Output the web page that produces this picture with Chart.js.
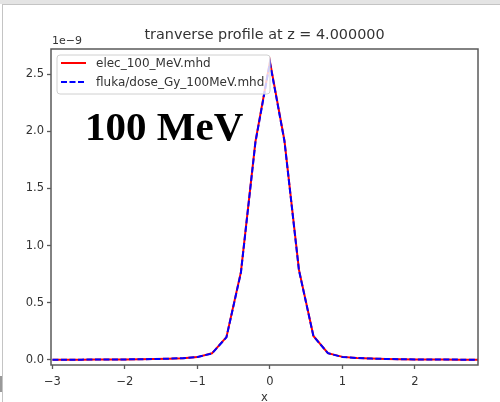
<!DOCTYPE html>
<html>
<head>
<meta charset="utf-8">
<script src="https://cdn.jsdelivr.net/npm/chart.js@4.4.1/dist/chart.umd.min.js"></script>
<style>
  html, body { margin: 0; padding: 0; background: #fff; }
  body { width: 500px; height: 402px; position: relative; overflow: hidden; }
  #topBand { position: absolute; left: 0; top: 0; width: 500px; height: 4px; background: #e4e4e4; }
  #frame { position: absolute; left: 2px; top: 4px; width: 498px; height: 398px;
           border-left: 1px solid #c4c4c4; border-top: 1px solid #c4c4c4; }
  #sideMark { position: absolute; left: 0; top: 376px; width: 2px; height: 16px; background: #999; }
  #profileChart { position: absolute; left: 0; top: 0; }
</style>
</head>
<body>
<div id="topBand"></div>
<div id="frame"></div>
<div id="sideMark"></div>
<canvas id="profileChart" width="500" height="402"></canvas>

<script>
// transverse dose profile, values in units of 1e-9
const xPos = [-3.0, -2.8, -2.6, -2.4, -2.2, -2.0, -1.8, -1.6, -1.4, -1.2, -1.0,
              -0.8, -0.6, -0.4, -0.2, 0.0, 0.2, 0.4, 0.6, 0.8, 1.0,
              1.2, 1.4, 1.6, 1.8, 2.0, 2.2, 2.4, 2.6, 2.8, 3.0];

const elecDose = [0.003, 0.003, 0.003, 0.004, 0.004, 0.005, 0.006, 0.008, 0.011, 0.016, 0.025,
                  0.058, 0.200, 0.770, 1.910, 2.610, 1.920, 0.790, 0.210, 0.060, 0.027,
                  0.017, 0.012, 0.009, 0.007, 0.005, 0.004, 0.004, 0.003, 0.003, 0.003];

const flukaDose = [0.003, 0.003, 0.003, 0.004, 0.004, 0.005, 0.006, 0.008, 0.011, 0.016, 0.026,
                   0.057, 0.198, 0.765, 1.905, 2.600, 1.915, 0.785, 0.208, 0.059, 0.026,
                   0.017, 0.012, 0.009, 0.007, 0.005, 0.004, 0.004, 0.003, 0.003, 0.003];

const xTicks = [-3, -2, -1, 0, 1, 2];
const yTicks = [0.0, 0.5, 1.0, 1.5, 2.0, 2.5];

const titleText = "tranverse profile at z = 4.000000";
const offsetText = "1e\u22129";
const energyText = "100 MeV";

const sansFont = "'DejaVu Sans', sans-serif";
const axisColor = "#5a5a5a";
const textColor = "#333";

const toPoints = (ys) => xPos.map((x, i) => ({ x, y: ys[i] }));

// frame box, title, offset label, legend and energy label
const decorations = {
  id: "decorations",
  afterDatasetsDraw(chart) {
    const { ctx, chartArea: a } = chart;
    ctx.save();

    ctx.strokeStyle = axisColor;
    ctx.lineWidth = 1.5;
    ctx.strokeRect(a.left, a.top, a.right - a.left, a.bottom - a.top);

    ctx.fillStyle = textColor;
    ctx.font = "14.4px " + sansFont;
    ctx.textAlign = "center";
    ctx.textBaseline = "alphabetic";
    ctx.fillText(titleText, (a.left + a.right) / 2, a.top - 10);

    ctx.font = "11px " + sansFont;
    ctx.textAlign = "left";
    ctx.fillText(offsetText, a.left + 1, a.top - 5);

    // legend box
    const bx = a.left + 6, by = a.top + 6, bw = 213, bh = 39;
    ctx.beginPath();
    ctx.roundRect(bx, by, bw, bh, 3);
    ctx.fillStyle = "rgba(255,255,255,0.8)";
    ctx.fill();
    ctx.strokeStyle = "#d0d0d0";
    ctx.lineWidth = 1;
    ctx.stroke();

    chart.data.datasets.forEach((ds, i) => {
      const y = by + 8 + i * 19;
      ctx.beginPath();
      ctx.setLineDash(ds.borderDash || []);
      ctx.strokeStyle = ds.borderColor;
      ctx.lineWidth = ds.borderWidth;
      ctx.moveTo(bx + 4, y);
      ctx.lineTo(bx + 29, y);
      ctx.stroke();
      ctx.setLineDash([]);
      ctx.fillStyle = textColor;
      ctx.font = "12px " + sansFont;
      ctx.textBaseline = "middle";
      ctx.fillText(ds.label, bx + 39, y + 1);
    });

    ctx.fillStyle = "#000";
    ctx.font = "bold 41px 'Liberation Serif', serif";
    ctx.textBaseline = "alphabetic";
    ctx.fillText(energyText, 85, 140);

    ctx.restore();
  }
};

new Chart(document.getElementById("profileChart"), {
  type: "scatter",
  data: {
    datasets: [
      {
        label: "elec_100_MeV.mhd",
        data: toPoints(elecDose),
        showLine: true,
        borderColor: "#ff0000",
        borderWidth: 2,
        pointRadius: 0,
        order: 1,
      },
      {
        label: "fluka/dose_Gy_100MeV.mhd",
        data: toPoints(flukaDose),
        showLine: true,
        borderColor: "#0000ff",
        borderWidth: 2,
        borderDash: [6, 2.5],
        pointRadius: 0,
        order: 0,
      },
    ],
  },
  options: {
    responsive: false,
    devicePixelRatio: 1,
    animation: false,
    layout: { padding: { top: 49, right: 22, left: 0, bottom: 0 } },
    plugins: {
      legend: { display: false },
      tooltip: { enabled: false },
    },
    scales: {
      x: {
        type: "linear",
        min: -3.02,
        max: 2.87,
        afterBuildTicks: (scale) => { scale.ticks = xTicks.map((v) => ({ value: v })); },
        afterFit: (scale) => { scale.height = 37; },
        border: { display: false },
        grid: { drawOnChartArea: false, drawTicks: true, tickLength: 4, tickColor: axisColor, tickWidth: 1.3 },
        ticks: {
          color: textColor,
          font: { family: sansFont, size: 11.5 },
          padding: 6,
          maxRotation: 0,
          callback: (v) => String(v).replace("-", "\u2212"),
        },
        title: {
          display: true,
          text: "x",
          color: textColor,
          font: { family: sansFont, size: 11.5 },
          padding: { top: 0, bottom: -3 },
        },
      },
      y: {
        type: "linear",
        min: -0.044,
        max: 2.72,
        afterBuildTicks: (scale) => { scale.ticks = yTicks.map((v) => ({ value: v })); },
        afterFit: (scale) => { scale.width = 51; },
        border: { display: false },
        grid: { drawOnChartArea: false, drawTicks: true, tickLength: 4, tickColor: axisColor, tickWidth: 1.3 },
        ticks: {
          color: textColor,
          font: { family: sansFont, size: 11.5 },
          padding: 3,
          callback: (v) => v.toFixed(1),
        },
      },
    },
  },
  plugins: [decorations],
});
</script>
</body>
</html>
